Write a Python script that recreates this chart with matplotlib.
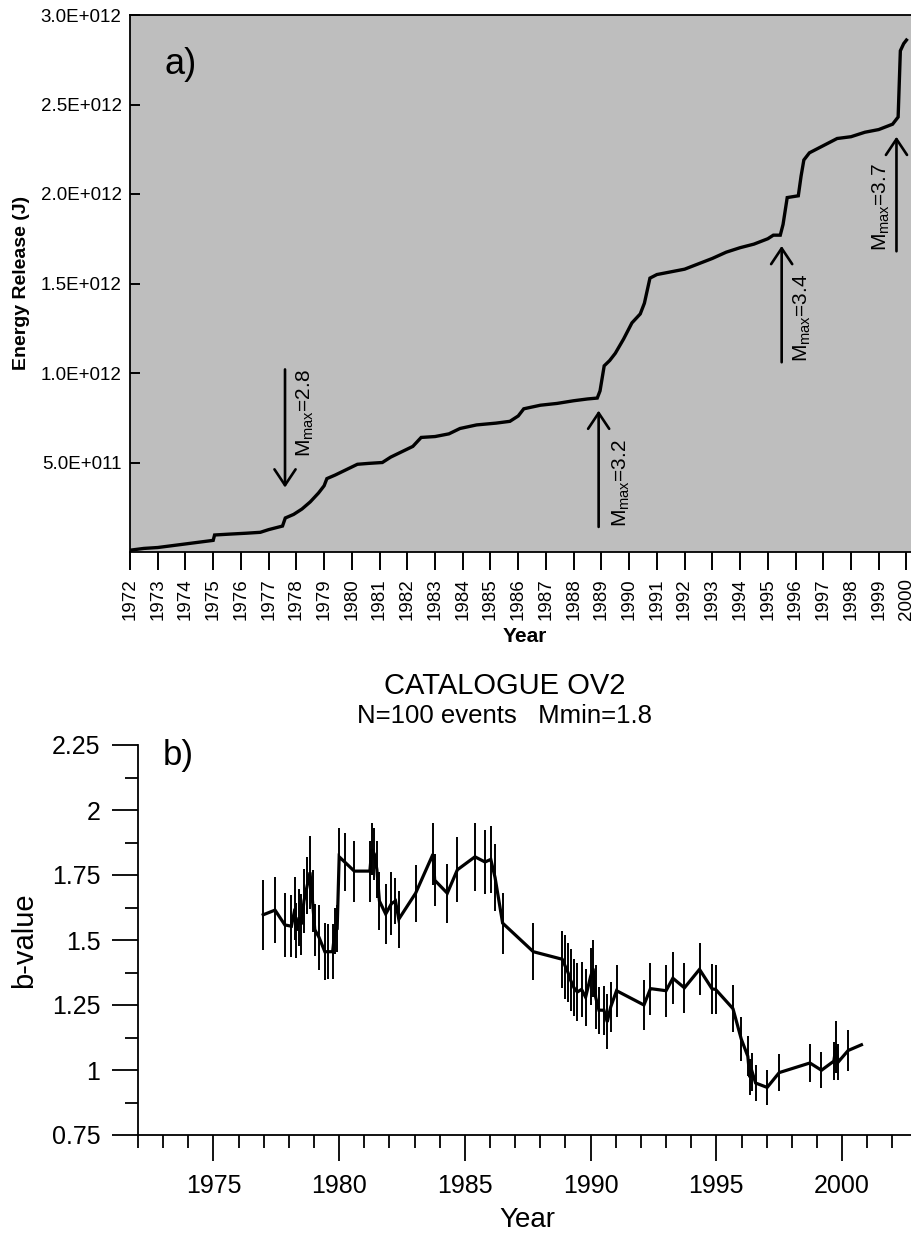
import matplotlib
matplotlib.use("Agg")
import matplotlib.pyplot as plt
from matplotlib.ticker import MultipleLocator, FixedLocator

plt.rcParams["font.family"] = ["Liberation Sans", "DejaVu Sans"]
plt.rcParams["mathtext.fontset"] = "custom"
plt.rcParams["mathtext.rm"] = "Liberation Sans"
plt.rcParams["mathtext.it"] = "Liberation Sans"

# --- panel a: cumulative energy release (units of 1e12 J) ---
energy_years = [
    1972.00, 1972.5, 1973.0, 1973.5, 1974.0, 1974.5, 1975.0, 1975.05, 1975.6,
    1976.2, 1976.7, 1977.0, 1977.5, 1977.6, 1977.9, 1978.2, 1978.5, 1978.8,
    1979.0, 1979.1, 1979.4, 1979.8, 1980.2, 1980.6, 1981.1, 1981.4, 1981.8,
    1982.2, 1982.5, 1983.0, 1983.5, 1983.9, 1984.5, 1985.2, 1985.7, 1986.0,
    1986.2, 1986.8, 1987.4, 1988.0, 1988.5, 1988.85, 1988.95, 1989.1, 1989.3,
    1989.5, 1989.8, 1990.1, 1990.4, 1990.55, 1990.65, 1990.75, 1991.0, 1991.5,
    1992.0, 1992.5, 1993.0, 1993.5, 1994.0, 1994.5, 1995.0, 1995.2, 1995.45,
    1995.55, 1995.7, 1996.1, 1996.2, 1996.3, 1996.5, 1997.0, 1997.5, 1998.0,
    1998.5, 1999.0, 1999.5, 1999.7, 1999.78, 1999.9, 2000.0,
]
energy_cum = [
    0.010, 0.020, 0.025, 0.035, 0.045, 0.055, 0.065, 0.095, 0.100,
    0.105, 0.110, 0.125, 0.145, 0.190, 0.210, 0.240, 0.280, 0.330,
    0.370, 0.410, 0.430, 0.460, 0.490, 0.495, 0.500, 0.530, 0.560,
    0.590, 0.640, 0.645, 0.660, 0.690, 0.710, 0.720, 0.730, 0.760,
    0.800, 0.820, 0.830, 0.845, 0.855, 0.860, 0.900, 1.040, 1.070,
    1.110, 1.190, 1.280, 1.330, 1.390, 1.460, 1.530, 1.550, 1.565,
    1.580, 1.610, 1.640, 1.675, 1.700, 1.720, 1.750, 1.770, 1.770,
    1.830, 1.980, 1.990, 2.100, 2.190, 2.230, 2.270, 2.310, 2.320,
    2.345, 2.360, 2.390, 2.430, 2.800, 2.840, 2.860,
]

mmax_years = [1977.59, 1988.90, 1995.50, 1999.64]
mmax_values = ["2.8", "3.2", "3.4", "3.7"]
arrow_tail = [1.02, 0.14, 1.06, 1.68]
arrow_tip = [0.36, 0.79, 1.71, 2.32]

# --- panel b: b-value time series ---
b_years = [
    1976.98, 1977.45, 1977.84, 1978.10, 1978.24, 1978.30, 1978.41, 1978.50,
    1978.60, 1978.73, 1978.84, 1978.94, 1979.03, 1979.20, 1979.43, 1979.56,
    1979.74, 1979.83, 1979.92, 1980.00, 1980.22, 1980.60, 1981.22, 1981.30,
    1981.40, 1981.50, 1981.60, 1981.85, 1982.08, 1982.24, 1982.37, 1983.04,
    1983.73, 1983.80, 1984.30, 1984.70, 1985.40, 1985.80, 1986.03, 1986.20,
    1986.50, 1987.72, 1988.87, 1989.00, 1989.10, 1989.20, 1989.34, 1989.47,
    1989.64, 1989.80, 1990.00, 1990.10, 1990.20, 1990.33, 1990.53, 1990.66,
    1990.80, 1991.03, 1992.12, 1992.38, 1993.00, 1993.27, 1993.73, 1994.33,
    1994.83, 1994.97, 1995.66, 1995.99, 1996.25, 1996.33, 1996.42, 1996.56,
    1997.02, 1997.50, 1998.72, 1999.18, 1999.67, 1999.76, 1999.84, 2000.24,
    2000.77,
]
b_values = [
    1.597, 1.615, 1.558, 1.553, 1.620, 1.536, 1.587, 1.560,
    1.650, 1.710, 1.760, 1.650, 1.540, 1.510, 1.455, 1.455,
    1.455, 1.535, 1.543, 1.820, 1.800, 1.765, 1.765, 1.850,
    1.830, 1.770, 1.650, 1.600, 1.640, 1.650, 1.580, 1.680,
    1.830, 1.730, 1.680, 1.770, 1.820, 1.800, 1.810, 1.740,
    1.565, 1.455, 1.426, 1.397, 1.375, 1.346, 1.316, 1.300,
    1.310, 1.280, 1.360, 1.390, 1.280, 1.230, 1.230, 1.185,
    1.243, 1.305, 1.250, 1.313, 1.305, 1.353, 1.316, 1.387,
    1.312, 1.310, 1.236, 1.119, 1.053, 0.972, 0.994, 0.950,
    0.933, 0.990, 1.027, 0.999, 1.034, 1.090, 1.030, 1.075,
    1.097,
]
b_errors = [
    0.134, 0.128, 0.124, 0.119, 0.121, 0.105, 0.110, 0.117,
    0.124, 0.110, 0.139, 0.120, 0.100, 0.124, 0.110, 0.106,
    0.106, 0.090, 0.090, 0.110, 0.110, 0.117, 0.117, 0.100,
    0.100, 0.110, 0.110, 0.117, 0.120, 0.090, 0.110, 0.110,
    0.120, 0.100, 0.113, 0.125, 0.130, 0.124, 0.130, 0.128,
    0.117, 0.110, 0.110, 0.124, 0.113, 0.120, 0.110, 0.110,
    0.106, 0.110, 0.110, 0.110, 0.124, 0.090, 0.095, 0.106,
    0.095, 0.100, 0.095, 0.100, 0.100, 0.100, 0.095, 0.100,
    0.095, 0.095, 0.090, 0.084, 0.077, 0.070, 0.073, 0.070,
    0.068, 0.070, 0.073, 0.070, 0.073, 0.100, 0.070, 0.077,
    0.000,
]

W, H = 912, 1238
fig = plt.figure(figsize=(W / 100, H / 100), dpi=100)


def px_box(left, top, right, bottom):
    return [left / W, 1 - bottom / H, (right - left) / W, (bottom - top) / H]


def px_text(x, y, s, **kw):
    return fig.text(x / W, 1 - y / H, s, ha=kw.pop("ha", "center"),
                    va=kw.pop("va", "center"), **kw)


# ---------------- panel a ----------------
ax1 = fig.add_axes(px_box(130, 15, 912, 552))
ax1.set_facecolor("#bebebe")
ax1.plot(energy_years, [v * 1e12 for v in energy_cum], color="black",
         lw=2.4, solid_joinstyle="miter")
ax1.set_xlim(1972, 2000.2)
ax1.set_ylim(0, 3.0e12)
for side in ("left", "top", "bottom"):
    ax1.spines[side].set_linewidth(1.3)
ax1.spines["right"].set_visible(False)

ax1.xaxis.set_major_locator(FixedLocator(list(range(1972, 2001))))
ax1.set_xticklabels([str(y) for y in range(1972, 2001)], rotation=90)
ax1.tick_params(axis="x", direction="out", length=13, width=1.4,
                labelsize=13.5, pad=6)
yt = [0.5e12, 1.0e12, 1.5e12, 2.0e12, 2.5e12, 3.0e12]
ax1.set_yticks(yt)
ax1.set_yticklabels(["5.0E+011", "1.0E+012", "1.5E+012", "2.0E+012",
                     "2.5E+012", "3.0E+012"])
ax1.tick_params(axis="y", direction="in", length=7, width=1.4,
                labelsize=13.5, pad=6)

px_text(22, 283, "Energy Release (J)", fontsize=14, fontweight="bold",
        rotation=90)
px_text(525, 637, "Year", fontsize=15, fontweight="bold")

# arrows marking the largest events
label_dx = [0.72, 0.83, 0.76, -0.54]
for yr, mv, tail, tip, dx in zip(mmax_years, mmax_values, arrow_tail,
                                 arrow_tip, label_dx):
    ax1.annotate("", xy=(yr, tip * 1e12), xytext=(yr, tail * 1e12),
                 arrowprops=dict(arrowstyle="->,head_length=0.6,head_width=0.4",
                                 lw=1.9, color="black", mutation_scale=19,
                                 shrinkA=0, shrinkB=0))
    va = "top" if tip < tail else "bottom"
    ax1.text(yr + dx, tail * 1e12, r"M$_{\mathrm{max}}$=" + mv, rotation=90,
             ha="center", va=va, fontsize=15)

px_text(181, 65, "a)", fontsize=26)

# ---------------- panel b ----------------
ax2 = fig.add_axes(px_box(138, 745, 912, 1135))
ax2.plot(b_years, b_values, color="black", lw=2.3, solid_joinstyle="miter")
ax2.errorbar(b_years, b_values, yerr=b_errors, fmt="none", ecolor="black",
             elinewidth=1.4, capsize=0)
ax2.set_xlim(1972, 2002.78)
ax2.set_ylim(0.75, 2.25)
for side in ("top", "right"):
    ax2.spines[side].set_visible(False)
for side in ("left", "bottom"):
    ax2.spines[side].set_linewidth(1.3)

ax2.xaxis.set_major_locator(FixedLocator([1975, 1980, 1985, 1990, 1995, 2000]))
ax2.xaxis.set_minor_locator(MultipleLocator(1))
ax2.yaxis.set_minor_locator(MultipleLocator(0.125))
ax2.set_yticks([0.75, 1.0, 1.25, 1.5, 1.75, 2.0, 2.25])
ax2.set_yticklabels(["0.75", "1", "1.25", "1.5", "1.75", "2", "2.25"])
ax2.tick_params(axis="both", which="major", direction="out", length=19,
                width=1.3, labelsize=18)
ax2.tick_params(axis="both", which="minor", direction="out", length=9.5,
                width=1.3)
ax2.tick_params(axis="y", which="major", pad=8)
ax2.tick_params(axis="x", which="major", pad=9)

px_text(24, 940, "b-value", fontsize=21, rotation=90)
px_text(527, 1220, "Year", fontsize=20)

px_text(505, 686, "CATALOGUE OV2", fontsize=21)
px_text(505, 716, "N=100 events   Mmin=1.8", fontsize=18.5)
px_text(178, 756, "b)", fontsize=25)

fig.savefig("out.png", dpi=100)
